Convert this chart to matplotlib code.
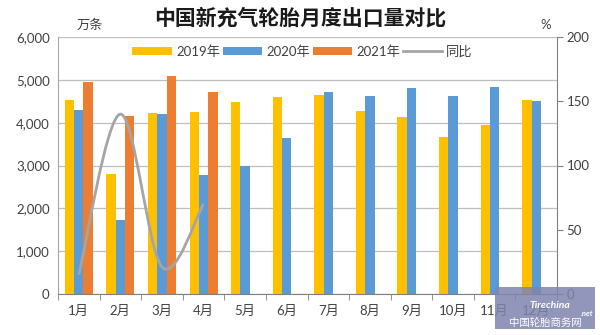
import numpy as np
import matplotlib
matplotlib.use("Agg")
import matplotlib.pyplot as plt
import matplotlib.ticker as ticker
from matplotlib.path import Path
from matplotlib.patches import PathPatch, Rectangle
from matplotlib.lines import Line2D

plt.rcParams['font.family'] = ['Lato', 'Noto Sans CJK SC', 'DejaVu Sans']

months = ["1月", "2月", "3月", "4月", "5月", "6月",
          "7月", "8月", "9月", "10月", "11月", "12月"]
exports_2019 = [4520, 2800, 4230, 4250, 4480, 4600,
                4650, 4280, 4130, 3660, 3950, 4530]
exports_2020 = [4300, 1730, 4200, 2780, 2990, 3640,
                4720, 4630, 4810, 4630, 4830, 4510]
exports_2021 = [4950, 4160, 5090, 4720]
yoy_pct = [15, 140, 21, 70]

c2019 = '#FFC000'
c2020 = '#5B9BD5'
c2021 = '#ED7D31'
cline = '#A5A5A5'
grid_c = '#BFBFBF'
text_c = '#404040'

fig = plt.figure(figsize=(6, 3.35), dpi=100)
ax = fig.add_axes([58 / 600, 1 - 294 / 335, (557 - 58) / 600, (294 - 37) / 335])

x = np.arange(len(months))
w = 0.224
ax.bar(x - w, exports_2019, w, color=c2019, label='2019年', zorder=2)
ax.bar(x, exports_2020, w, color=c2020, label='2020年', zorder=2)
ax.bar(x[:len(exports_2021)] + w, exports_2021, w, color=c2021, label='2021年', zorder=2)

ax.set_xlim(-0.5, len(months) - 0.5)
ax.set_ylim(0, 6000)
ax.yaxis.set_major_locator(ticker.MultipleLocator(1000))
ax.yaxis.set_major_formatter(ticker.StrMethodFormatter('{x:,.0f}'))
ax.grid(axis='y', color=grid_c, linewidth=0.9, zorder=0)
ax.set_axisbelow(True)

ax.set_xticks(x)
ax.set_xticklabels(months)
ax.set_xticks(np.arange(-0.5, len(months)), minor=True)
ax.tick_params(axis='x', which='major', length=0, pad=8, labelsize=9.5, colors=text_c)
ax.tick_params(axis='x', which='minor', length=4, color='#808080', direction='out')
ax.tick_params(axis='y', length=0, pad=6, labelsize=9.5, colors=text_c)

for s in ['top', 'right']:
    ax.spines[s].set_visible(False)
ax.spines['left'].set_color('#A6A6A6')
ax.spines['bottom'].set_color('#808080')

# secondary axis for the YoY line
ax2 = ax.twinx()
ax2.set_ylim(0, 200)
ax2.yaxis.set_major_locator(ticker.MultipleLocator(50))
ax2.tick_params(axis='y', length=4, labelsize=9.5, colors=text_c, pad=3)
ax2.tick_params(axis='y', color='#808080')
for s in ['top', 'left', 'bottom']:
    ax2.spines[s].set_visible(False)
ax2.spines['right'].set_color('#808080')

# smoothed line (Catmull-Rom as cubic Bezier, like Excel's smooth line)
pts = list(zip(x[:len(yoy_pct)].astype(float), [float(v) for v in yoy_pct]))
verts = [pts[0]]
codes = [Path.MOVETO]
n = len(pts)
for i in range(n - 1):
    p0 = np.array(pts[max(i - 1, 0)])
    p1 = np.array(pts[i])
    p2 = np.array(pts[i + 1])
    p3 = np.array(pts[min(i + 2, n - 1)])
    c1 = p1 + (p2 - p0) / 6
    c2 = p2 - (p3 - p1) / 6
    verts += [tuple(c1), tuple(c2), tuple(p2)]
    codes += [Path.CURVE4] * 3
ax2.add_patch(PathPatch(Path(verts, codes), facecolor='none',
                        edgecolor=cline, linewidth=2, zorder=3))

# legend
handles, labels = ax.get_legend_handles_labels()
handles.append(Line2D([], [], color=cline, linewidth=2))
labels.append('同比')
ax2.legend(handles, labels, ncol=4, loc='upper center',
           bbox_to_anchor=(0.49, 1.0), frameon=False, fontsize=9.5,
           handlelength=3.0, handleheight=0.6, handletextpad=0.3,
           columnspacing=0.2, borderaxespad=0.2, labelcolor=text_c)

# titles and units
fig.text(0.5, 1 - 18 / 335, '中国新充气轮胎月度出口量对比', ha='center', va='center',
         fontsize=15, fontweight='bold', family=['Noto Sans CJK SC'], color='#1a1a1a')
fig.text(90 / 600, 1 - 25 / 335, '万条', ha='center', va='center',
         fontsize=9.5, color=text_c)
fig.text(546 / 600, 1 - 25 / 335, '%', ha='center', va='center',
         fontsize=9.5, color=text_c)

# watermark
fig.patches.append(Rectangle((495 / 600, 1 - 329 / 335), 100 / 600, 42 / 335,
                             transform=fig.transFigure, facecolor='#7F84AE',
                             alpha=0.85, edgecolor='none', zorder=5))
fig.text(550 / 600, 1 - 306 / 335, 'Tirechina', ha='center', va='center',
         fontsize=7.5, fontweight='bold', style='italic', color='white', zorder=6)
fig.text(587 / 600, 1 - 314 / 335, '.net', ha='center', va='center',
         fontsize=5.5, fontweight='bold', style='italic', color='white', zorder=6)
fig.text(545 / 600, 1 - 323 / 335, '中国轮胎商务网', ha='center', va='center',
         fontsize=7.5, color='white', family=['Noto Sans CJK SC'], zorder=6)

fig.savefig('out.png', dpi=100, facecolor='white')
